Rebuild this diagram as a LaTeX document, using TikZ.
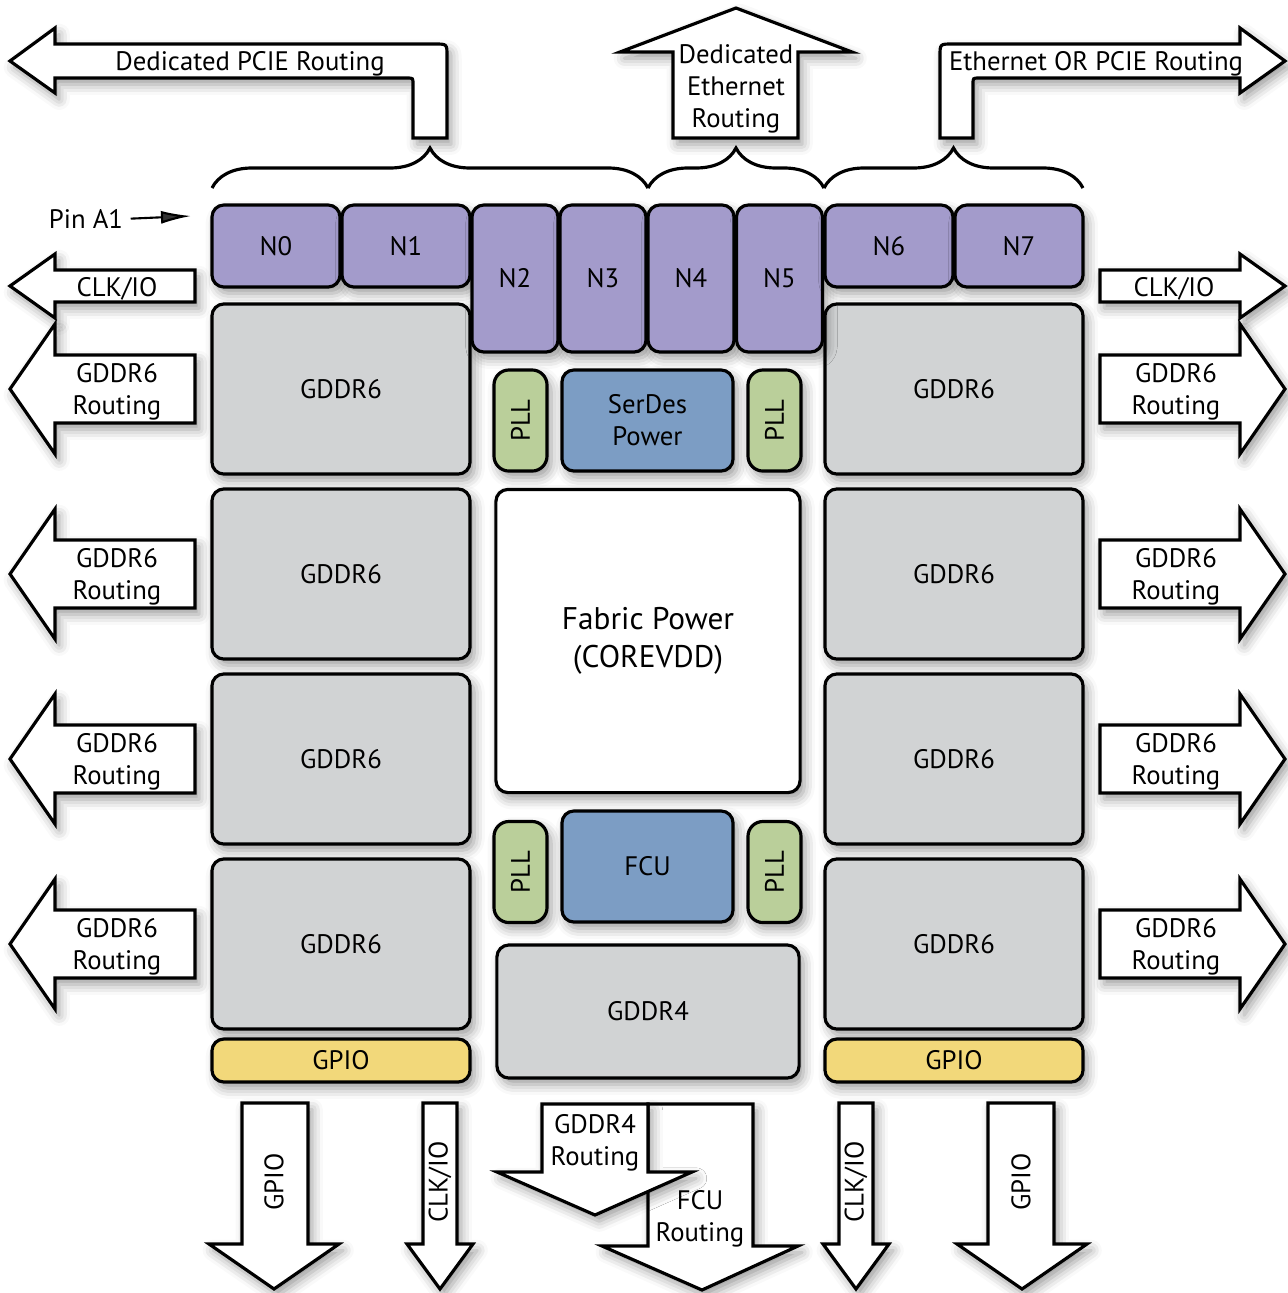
\documentclass[tikz,border=0pt]{standalone}
\usepackage{fontspec}
\setmainfont{PT Sans}
\usetikzlibrary{arrows.meta,positioning,decorations.pathreplacing,shadows.blur}

\definecolor{npurple}{RGB}{163,155,203}
\definecolor{memgray}{RGB}{209,211,212}
\definecolor{pllgreen}{RGB}{186,207,154}
\definecolor{pwrblue}{RGB}{124,157,196}
\definecolor{gpioyel}{RGB}{242,216,122}

\begin{document}
\begin{tikzpicture}[
  x=0.01cm, y=-0.01cm,
  font=\fontsize{7.6}{9.1}\selectfont,
  soft/.style={blur shadow={shadow xshift=1.2pt, shadow yshift=-1.8pt, shadow blur radius=3pt, shadow opacity=40}},
  blk/.style={draw, line width=0.9pt, rounded corners=0.12cm, soft, align=center, inner sep=0pt},
  nblk/.style={blk, fill=npurple, minimum width=1.28cm, minimum height=0.82cm},
  ntall/.style={blk, fill=npurple, minimum width=0.86cm, minimum height=1.47cm},
  gddr/.style={blk, fill=memgray, minimum width=2.58cm, minimum height=1.70cm},
  gpio/.style={blk, fill=gpioyel, minimum width=2.58cm, minimum height=0.43cm},
  pll/.style={blk, fill=pllgreen, rounded corners=0.15cm, minimum width=0.53cm, minimum height=1.01cm},
  pwr/.style={blk, fill=pwrblue, minimum width=1.71cm},
  bigarrow/.style={draw, fill=white, line width=0.9pt, soft},
  brc/.style={decorate, decoration={brace, amplitude=0.4cm}, line width=0.9pt},
  lbl/.style={align=center, inner sep=0pt, yshift=-0.75pt},
  vlbl/.style={inner sep=0pt, rotate=90},
]
\useasboundingbox (0,0) rectangle (1288,1293);

% top routing arrows
\draw[bigarrow] (413,138) -- (447,138) -- (447,56) .. controls (447,44) .. (435,44) -- (55,44) -- (55,28)
  -- (10,61) -- (55,93) -- (55,78) -- (407,78) .. controls (413,78) .. (413,84) -- cycle;
\draw[bigarrow] (673,138) -- (673,52) -- (620,52) -- (736,8) -- (852,52) -- (798,52) -- (798,138) -- cycle;
\draw[bigarrow] (940,138) -- (940,56) .. controls (940,44) .. (952,44) -- (1240,44) -- (1240,28)
  -- (1285,61) -- (1240,93) -- (1240,78) -- (979,78) .. controls (973,78) .. (973,84) -- (973,138) -- cycle;
\node[lbl] (pcie) at (250,61) {Dedicated PCIE Routing};
\node[lbl] (eth) at (736,86) {Dedicated\\Ethernet\\Routing};
\node[lbl] (ethpcie) at (1096,61) {Ethernet OR PCIE Routing};

% braces
\draw[brc] (212,188) -- (648,188);
\draw[brc] (648,188) -- (824,188);
\draw[brc] (824,188) -- (1083,188);

% pin marker
\node[lbl] (pin) at (86,216) {Pin A1};
\coordinate (a1) at (191,216);
\draw[-{Latex[length=3mm,width=1.3mm]}, line width=0.6pt] (pin.east) ++(7,0) -- (a1);

% side arrows
\draw[bigarrow] (195,270) -- (55,270) -- (55,254) -- (10,286) -- (55,318) -- (55,302) -- (195,302) -- cycle;
\draw[bigarrow] (1100,270) -- (1240,270) -- (1240,254) -- (1285,286) -- (1240,318) -- (1240,302) -- (1100,302) -- cycle;
\node[lbl] (clkl) at (117,286) {CLK/IO};
\node[lbl] (clkr) at (1174,286) {CLK/IO};
\foreach \c [count=\i] in {389,574,759,944}{
  \draw[bigarrow] (195,\c-34) -- (55,\c-34) -- (55,\c-65) -- (10,\c) -- (55,\c+65) -- (55,\c+34) -- (195,\c+34) -- cycle;
  \draw[bigarrow] (1100,\c-34) -- (1240,\c-34) -- (1240,\c-65) -- (1285,\c) -- (1240,\c+65) -- (1240,\c+34) -- (1100,\c+34) -- cycle;
  \node[lbl] (rtl\i) at (117,\c) {GDDR6\\Routing};
  \node[lbl] (rtr\i) at (1176,\c) {GDDR6\\Routing};
}

% bottom arrows
\draw[bigarrow] (242,1103) -- (308,1103) -- (308,1244) -- (339,1244) -- (274,1289) -- (209,1244) -- (242,1244) -- cycle;
\draw[bigarrow] (423,1103) -- (457,1103) -- (457,1244) -- (473,1244) -- (440,1289) -- (407,1244) -- (423,1244) -- cycle;
\draw[bigarrow] (839,1103) -- (873,1103) -- (873,1244) -- (889,1244) -- (856,1289) -- (823,1244) -- (839,1244) -- cycle;
\draw[bigarrow] (988,1103) -- (1054,1103) -- (1054,1244) -- (1087,1244) -- (1022,1289) -- (957,1244) -- (988,1244) -- cycle;
\draw[bigarrow] (648,1104) -- (753,1104) -- (753,1246) -- (798,1246) -- (702,1290) -- (602,1246) -- (648,1246) -- cycle;
\draw[bigarrow] (542,1104) -- (648,1104) -- (648,1172) -- (692,1172) -- (595,1215) -- (497,1172) -- (542,1172) -- cycle;
\node[vlbl] (gpiol) at (274,1182) {GPIO};
\node[vlbl] (clkbl) at (440,1182) {CLK/IO};
\node[vlbl] (clkbr) at (856,1182) {CLK/IO};
\node[vlbl] (gpior) at (1021,1182) {GPIO};
\node[lbl] (g4rt) at (595,1140) {GDDR4\\Routing};
\node[lbl] (fcurt) at (700,1216) {FCU\\Routing};

% memory columns
\foreach \c [count=\i] in {389,574,759,944}{
  \node[gddr] (gl\i) at (341,\c) {GDDR6};
  \node[gddr] (gr\i) at (954,\c) {GDDR6};
}
\node[gpio] (iol) at (341,1060.5) {GPIO};
\node[gpio] (ior) at (954,1060.5) {GPIO};

% SerDes lanes
\node[nblk] (n0) at (276,246) {N0};
\node[nblk] (n1) at (406,246) {N1};
\node[ntall] (n2) at (515,278.5) {N2};
\node[ntall] (n3) at (603,278.5) {N3};
\node[ntall] (n4) at (691,278.5) {N4};
\node[ntall] (n5) at (779.5,278.5) {N5};
\node[nblk] (n6) at (889,246) {N6};
\node[nblk] (n7) at (1019,246) {N7};

% centre column
\node[pll] (pll1) at (520.5,420.5) {\rotatebox{90}{PLL}};
\node[pll] (pll2) at (774.5,420.5) {\rotatebox{90}{PLL}};
\node[pwr, minimum height=1.01cm] (serdes) at (647.5,420.5) {SerDes\\Power};
\node[blk, fill=white, minimum width=3.04cm, minimum height=3.03cm,
  font=\fontsize{8.9}{10.8}\selectfont] (fabric) at (648,641) {Fabric Power\\(COREVDD)};
\node[pll] (pll3) at (520.5,872) {\rotatebox{90}{PLL}};
\node[pll] (pll4) at (774.5,872) {\rotatebox{90}{PLL}};
\node[pwr, minimum height=1.11cm] (fcu) at (647.5,866.5) {FCU};
\node[blk, fill=memgray, minimum width=3.02cm, minimum height=1.33cm] (g4) at (648,1011.5) {GDDR4};
\end{tikzpicture}
\end{document}
